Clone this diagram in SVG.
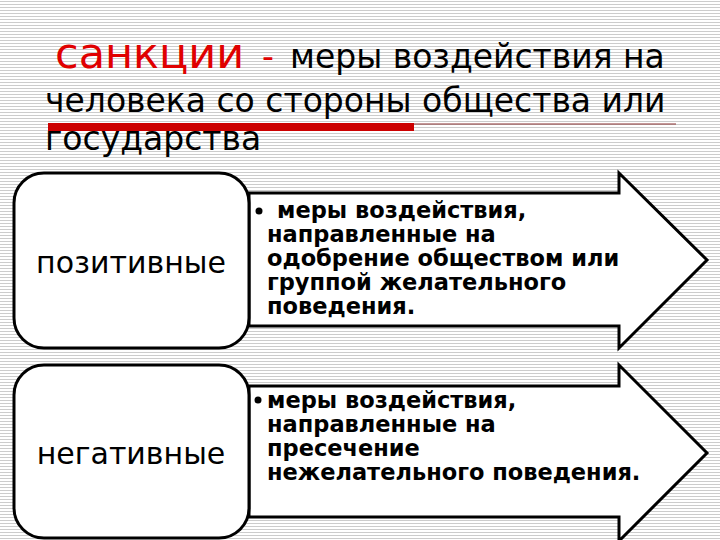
<svg xmlns="http://www.w3.org/2000/svg" width="720" height="540" viewBox="0 0 720 540">
<defs>
<pattern id="stripes" x="0" y="0" width="720" height="3" patternUnits="userSpaceOnUse">
<rect x="0" y="0" width="720" height="3" fill="#ffffff"/>
<rect x="0" y="1" width="720" height="1" fill="#cccccc" shape-rendering="crispEdges"/>
</pattern>
<style>
.title{font-family:"DejaVu Sans","Noto Sans",sans-serif;font-size:33px;fill:#000}
.red{fill:#e00000}
.box{fill:#fff;stroke:#000;stroke-width:3}
.arrow{fill:#fff;stroke:#000;stroke-width:3;stroke-linejoin:miter}
.lbl{font-family:"DejaVu Sans","Noto Sans",sans-serif;font-size:30px;fill:#000;text-anchor:middle}
.body{font-family:"DejaVu Sans","Noto Sans",sans-serif;font-size:22.5px;font-weight:bold;fill:#000}
</style>
</defs>
<rect width="720" height="540" fill="url(#stripes)"/>
<g id="title">
<text class="title" x="55" y="68"><tspan class="red" font-size="43">санкции</tspan><tspan class="red" x="262">-</tspan><tspan x="290">меры воздействия на</tspan></text>
<text class="title" x="45" y="112">человека со стороны общества или</text>
<text class="title" x="45" y="150">государства</text>
<rect x="48" y="123" width="366" height="8" fill="#cc0000"/>
<line x1="414" y1="124" x2="676" y2="124" stroke="#8a3030" stroke-width="1"/>
</g>
<g id="connectors">
<path class="arrow" d="M249,193 H619 V173 L707,260 L619,348 V326 H249 Z"/>
<path class="arrow" d="M249,386 H619 V365 L707,453 L619,541 V517 H249 Z"/>
</g>
<g id="positive">
<rect class="box" x="14" y="173" width="235" height="175" rx="30" ry="30"/>
<text class="lbl" x="131" y="273">позитивные</text>
</g>
<g id="negative">
<rect class="box" x="14" y="365" width="235" height="173" rx="30" ry="30"/>
<text class="lbl" x="131" y="464">негативные</text>
</g>
<g id="positive-text">
<circle cx="259" cy="211" r="3.5" fill="#000"/>
<text class="body" x="277" y="218">меры воздействия,</text>
<text class="body" x="267" y="242">направленные на</text>
<text class="body" x="267" y="266">одобрение обществом или</text>
<text class="body" x="267" y="290">группой желательного</text>
<text class="body" x="267" y="314">поведения.</text>
</g>
<g id="negative-text">
<circle cx="258" cy="400" r="3.5" fill="#000"/>
<text class="body" x="267" y="408">меры воздействия,</text>
<text class="body" x="267" y="432">направленные на</text>
<text class="body" x="267" y="456">пресечение</text>
<text class="body" x="267" y="480">нежелательного поведения.</text>
</g>
</svg>
